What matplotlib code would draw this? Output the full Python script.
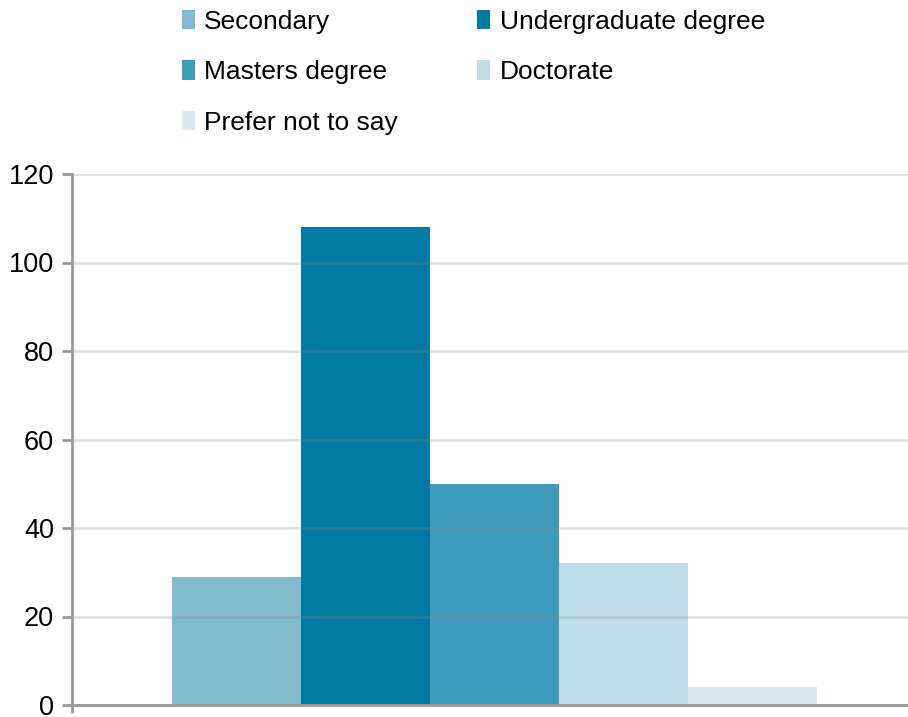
import matplotlib.pyplot as plt
import numpy as np
from matplotlib.patches import Patch

plt.rcParams['font.family'] = ['Liberation Sans', 'DejaVu Sans']

categories = ['Secondary', 'Undergraduate degree', 'Masters degree', 'Doctorate', 'Prefer not to say']
counts = [29, 108, 50, 32, 4]
colors = ['#82BACE', '#007AA3', '#3F9BBA', '#BFDDE6', '#D9EAF0']

fig = plt.figure(figsize=(9.08, 7.17), dpi=100)
ax = fig.add_axes([72 / 908, 12 / 717, 836 / 908, 531 / 717])

x = np.arange(len(categories))
ax.bar(x, counts, width=1.0, color=colors, zorder=1)

ax.set_ylim(0, 120)
ax.set_xlim(-1.275, 5.205)
ax.set_yticks(np.arange(0, 121, 20))
# single tick under the axis corner, as in the original
ax.set_xticks([-1.275])
ax.set_xticklabels([''])
ax.yaxis.grid(True, color='#888888', alpha=0.25, linewidth=2, zorder=3)
ax.set_axisbelow(False)

for s in ['top', 'right']:
    ax.spines[s].set_visible(False)
for s in ['left', 'bottom']:
    ax.spines[s].set_color('#999999')
    ax.spines[s].set_linewidth(2)
    ax.spines[s].set_zorder(4)
ax.tick_params(axis='y', length=7, width=2, color='#999999', labelsize=19.5, pad=6)
ax.tick_params(axis='x', length=6, width=2, color='#999999')

# legend laid out row-wise like the original (matplotlib fills by column)
order = [0, 2, 4, 1, 3]
handles = [Patch(facecolor=colors[i], edgecolor='none') for i in order]
labels = [categories[i] for i in order]
fig.legend(handles, labels, ncol=2, loc='upper left', bbox_to_anchor=(158 / 908, 1 + 14 / 717),
           frameon=False, fontsize=19, handlelength=0.5, handleheight=0.75,
           handletextpad=0.35, labelspacing=1.0, columnspacing=3.0)

fig.savefig('out.png', dpi=100)
